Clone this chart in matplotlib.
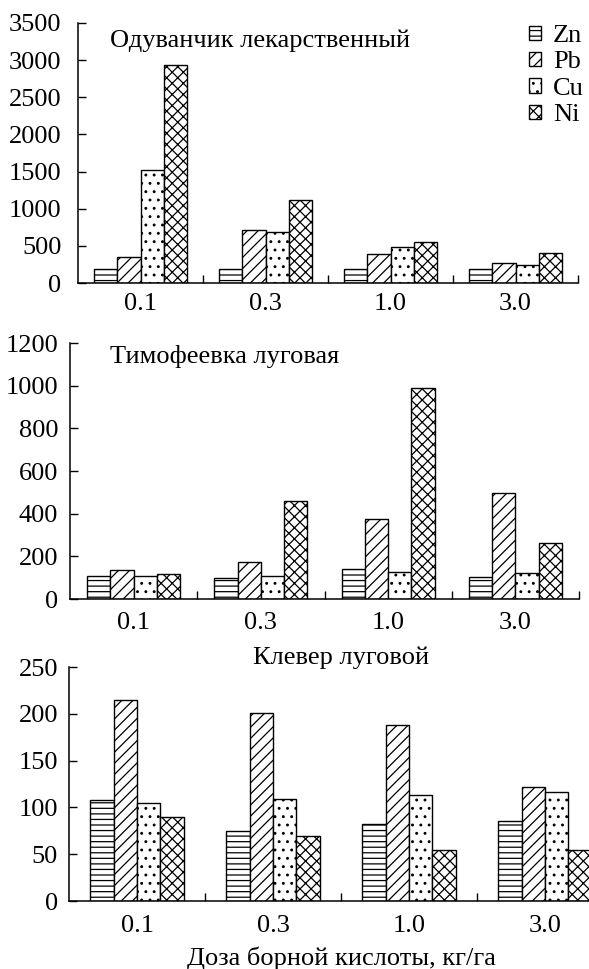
import numpy as np
import matplotlib
matplotlib.use('Agg')
import matplotlib.pyplot as plt

# data
doses = ['0.1', '0.3', '1.0', '3.0']
metals = ['Zn', 'Pb', 'Cu', 'Ni']
hatches = ['---', '///', '..', 'xxx']

titles = ['Одуванчик лекарственный', 'Тимофеевка луговая', 'Клевер луговой']

dandelion = {
    'Zn': [190, 190, 190, 190],
    'Pb': [355, 718, 386, 269],
    'Cu': [1517, 682, 489, 242],
    'Ni': [2935, 1117, 548, 400],
}
timothy = {
    'Zn': [110, 97, 139, 105],
    'Pb': [136, 172, 377, 496],
    'Cu': [108, 108, 125, 122],
    'Ni': [117, 460, 991, 261],
}
clover = {
    'Zn': [108, 75, 82, 85],
    'Pb': [215, 201, 188, 122],
    'Cu': [105, 109, 113, 116],
    'Ni': [90, 69, 54, 55],
}
panels = [dandelion, timothy, clover]
ymax = [3500, 1200, 250]
ysteps = [500, 200, 50]

plt.rcParams['font.family'] = ['Liberation Serif', 'DejaVu Serif']
plt.rcParams['font.size'] = 19
plt.rcParams['hatch.linewidth'] = 0.9

fig = plt.figure(figsize=(5.89, 9.69), dpi=100)
W, H = 589, 969
# axes boxes in pixels: left, right, top, bottom
boxes = [(78, 578, 23, 283), (70, 579, 343, 599), (69, 613, 667, 901)]
ypads = [12, 8.5, 8]
xpads = [7, 9.5, 10]
bar_px = 23.3

x = np.arange(len(doses))
axes = []
for i, (data, box) in enumerate(zip(panels, boxes)):
    l, r, t, b = box
    ax = fig.add_axes([l / W, (H - b) / H, (r - l) / W, (b - t) / H])
    axes.append(ax)
    group_px = (r - l) / len(doses)
    w = bar_px / group_px
    for j, m in enumerate(metals):
        ax.bar(x + (j - 1.5) * w, data[m], width=w, color='white',
               edgecolor='black', linewidth=1.0, hatch=hatches[j], label=m)
    ax.set_xlim(-0.5, len(doses) - 0.5)
    ax.set_ylim(0, ymax[i])
    ax.set_yticks(np.arange(0, ymax[i] + 1, ysteps[i]))
    ax.set_xticks(x)
    ax.set_xticklabels(doses)
    ax.set_xticks(list(x[1:] - 0.5) + [len(doses) - 0.5], minor=True)
    ax.tick_params(axis='x', which='major', length=0, pad=xpads[i])
    ax.tick_params(axis='x', which='minor', direction='in', length=6, width=1)
    ax.tick_params(axis='y', direction='in', length=6, width=1, pad=ypads[i])
    for s in ['top', 'right']:
        ax.spines[s].set_visible(False)
    for s in ['left', 'bottom']:
        ax.spines[s].set_linewidth(1.1)

fig.text(110 / W, 1 - 41 / H, titles[0], ha='left', va='center')
fig.text(110 / W, 1 - 357 / H, titles[1], ha='left', va='center')
fig.text(341 / W, 1 - 658 / H, titles[2], ha='center', va='center')

axes[0].legend(loc='upper left', bbox_to_anchor=(529 / W, 1 - 25 / H),
               bbox_transform=fig.transFigure, frameon=False,
               handlelength=0.45, handleheight=0.45, handletextpad=0.45,
               labelspacing=0.17, borderaxespad=0, borderpad=0)

axes[2].set_xlabel('Доза борной кислоты, кг/га', labelpad=7)

fig.savefig('out.png', dpi=100)
